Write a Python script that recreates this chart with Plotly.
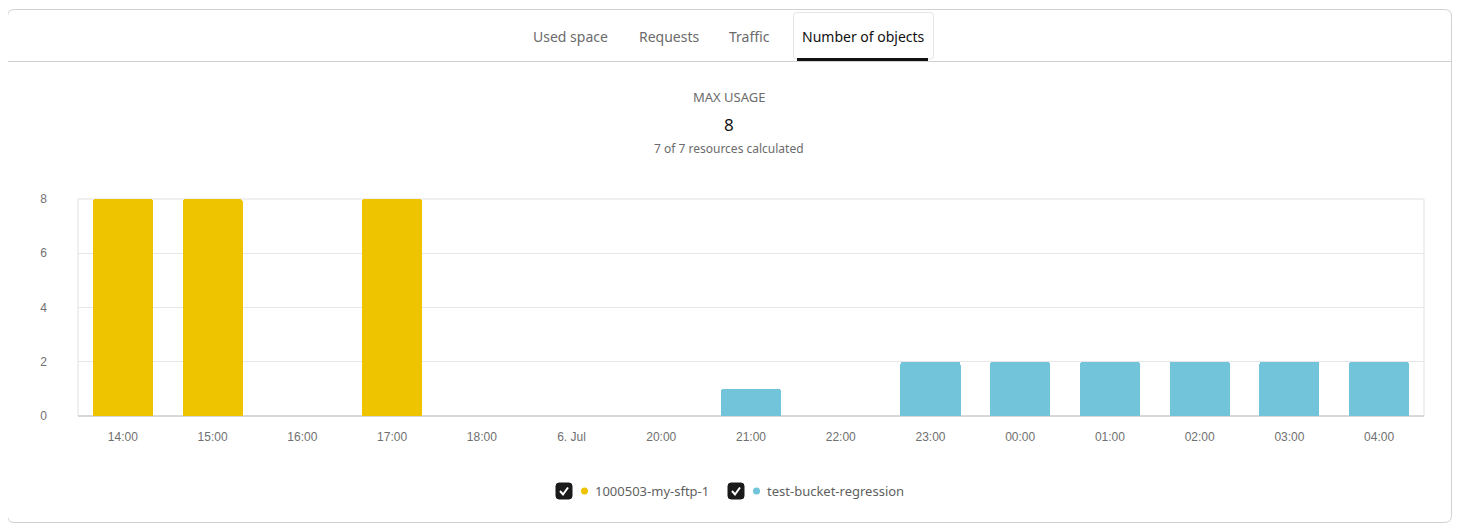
import plotly.graph_objects as go

categories = ["14:00", "15:00", "16:00", "17:00", "18:00", "6. Jul", "20:00", "21:00",
              "22:00", "23:00", "00:00", "01:00", "02:00", "03:00", "04:00"]
sftp_values = [8, 8, 0, 8, 0, 0, 0, 0, 0, 0, 0, 0, 0, 0, 0]
bucket_values = [0, 0, 0, 0, 0, 0, 0, 1, 0, 2, 2, 2, 2, 2, 2]
y_ticks = [0, 2, 4, 6, 8]
series_names = ["1000503-my-sftp-1", "test-bucket-regression"]
series_colors = ["#EEC300", "#71C4D9"]
tabs = ["Used space", "Requests", "Traffic", "Number of objects"]
max_usage = "8"
resources_text = "7 of 7 resources calculated"

OFF = 8  # page body margin
W, H = 1462 - 2 * OFF, 532 - 2 * OFF
L, R, T, B = 78 - OFF, 1424 - OFF, 199 - OFF, 416 - OFF

def px(x):
    return (x - OFF - L) / (R - L)

def py(y):
    return (B - (y - OFF)) / (B - T)

fig = go.Figure()
for name, vals, col in zip(series_names, [sftp_values, bucket_values], series_colors):
    fig.add_trace(go.Bar(x=categories, y=vals, name=name, marker=dict(color=col, line=dict(width=0)),
                         showlegend=False))

shapes = []
annotations = []

def rrect(x0, y0, x1, y1, r, color, fill=None, width=1):
    path = (f"M {px(x0+r)},{py(y0)} L {px(x1-r)},{py(y0)} Q {px(x1)},{py(y0)} {px(x1)},{py(y0+r)} "
            f"L {px(x1)},{py(y1-r)} Q {px(x1)},{py(y1)} {px(x1-r)},{py(y1)} "
            f"L {px(x0+r)},{py(y1)} Q {px(x0)},{py(y1)} {px(x0)},{py(y1-r)} "
            f"L {px(x0)},{py(y0+r)} Q {px(x0)},{py(y0)} {px(x0+r)},{py(y0)} Z")
    return dict(type="path", xref="paper", yref="paper", path=path,
                line=dict(color=color, width=width), fillcolor=fill or "rgba(0,0,0,0)", layer="below")

# card border
shapes.append(rrect(7.5, 9.5, 1451.5, 522.5, 7, "#d0d0d0"))
# separator
shapes.append(dict(type="line", xref="paper", yref="paper", x0=px(8), x1=px(1451), y0=py(61.5), y1=py(61.5),
                   line=dict(color="#d0d0d0", width=1)))
# active tab box
shapes.append(rrect(793.5, 12.5, 933.5, 59, 3, "#e4e4e4", "white"))
# underline
shapes.append(dict(type="line", xref="paper", yref="paper", x0=px(797), x1=px(928), y0=py(59.5), y1=py(59.5),
                   line=dict(color="#111111", width=3)))
# plot frame
shapes.append(dict(type="rect", xref="paper", yref="paper", x0=0, x1=1, y0=0, y1=1,
                   line=dict(color="#e0e0e0", width=1), layer="below"))

tab_x = [570, 669, 749, 863]
for t, xc in zip(tabs, tab_x):
    active = t == tabs[-1]
    annotations.append(dict(x=px(xc), y=py(37), xref="paper", yref="paper", text=t, showarrow=False,
                            font=dict(family="Noto Sans", size=14, color="#111111" if active else "#6b6b6b"),
                            xanchor="center", yanchor="middle"))

annotations.append(dict(x=px(729), y=py(97), xref="paper", yref="paper", text="MAX USAGE", showarrow=False,
                        font=dict(family="Noto Sans", size=13, color="#6b6b6b"), yanchor="middle"))
annotations.append(dict(x=px(729), y=py(124), xref="paper", yref="paper", text=max_usage, showarrow=False,
                        font=dict(family="Noto Sans", size=17, color="#111111"), yanchor="middle"))
annotations.append(dict(x=px(729), y=py(148), xref="paper", yref="paper", text=resources_text, showarrow=False,
                        font=dict(family="Noto Sans", size=12, color="#6b6b6b"), yanchor="middle"))

# custom legend
legend_items = [(556, series_names[0], series_colors[0]), (728, series_names[1], series_colors[1])]
for bx, name, col in legend_items:
    shapes.append(rrect(bx, 483, bx + 16, 499, 3, "#1a1a1a", "#1a1a1a"))
    shapes.append(dict(type="path", xref="paper", yref="paper",
                       path=f"M {px(bx+4)},{py(491)} L {px(bx+7)},{py(494.5)} L {px(bx+12)},{py(487.5)}",
                       line=dict(color="white", width=2)))
    shapes.append(dict(type="circle", xref="paper", yref="paper", x0=px(bx+25), x1=px(bx+32),
                       y0=py(494.5), y1=py(487.5), fillcolor=col, line=dict(width=0)))
    annotations.append(dict(x=px(bx + 37), y=py(491), xref="paper", yref="paper", text=name, showarrow=False,
                            xanchor="left", yanchor="middle",
                            font=dict(family="Noto Sans", size=13, color="#5f5f5f")))

fig.update_layout(
    width=W, height=H,
    margin=dict(l=L, r=W - R, t=T, b=H - B, pad=0),
    paper_bgcolor="white", plot_bgcolor="white",
    barmode="stack", bargap=0.33, barcornerradius=3,
    shapes=shapes, annotations=annotations,
    showlegend=False,
    xaxis=dict(type="category", tickfont=dict(family="Liberation Sans", size=12, color="#707070"),
               showgrid=False, showline=False, ticks="", ticklabelstandoff=12),
    yaxis=dict(range=[0, 8], tickvals=y_ticks, tickfont=dict(family="Liberation Sans", size=12, color="#707070"),
               gridcolor="#e6e6e6", gridwidth=1, zeroline=True, zerolinecolor="#d8d8d8",
               showline=False, ticks="", ticklabelstandoff=30),
    font=dict(family="Noto Sans"),
)

fig.write_html("out.html")
